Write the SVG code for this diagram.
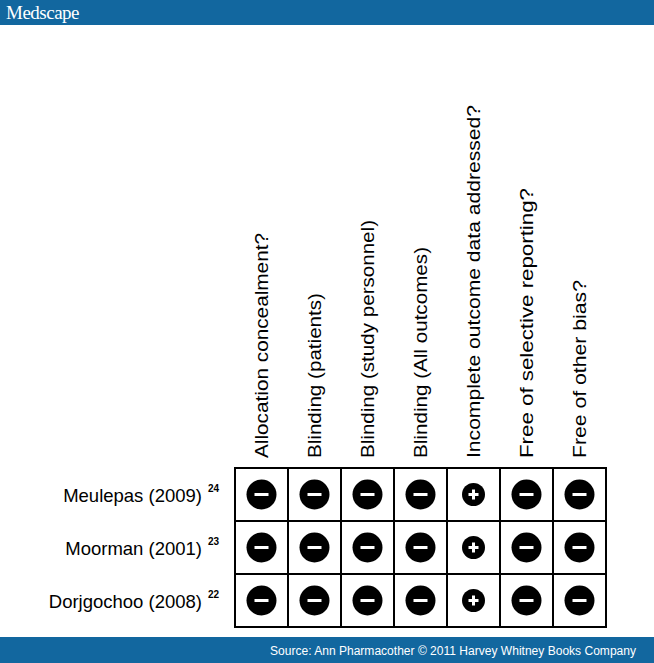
<svg xmlns="http://www.w3.org/2000/svg" width="654" height="663" viewBox="0 0 654 663">
<style>
.h{font-family:"Liberation Sans",Arial,sans-serif;font-size:18px;fill:#000}
.r{font-family:"Liberation Sans",Arial,sans-serif;font-size:18.5px;fill:#000;text-anchor:end}
.s{font-size:10px;font-weight:bold}
.g{fill:none;stroke:#000;stroke-width:2}
.m{fill:#000}
.w{stroke:#fff;stroke-width:3}
</style>
<defs>
<g id="neg"><circle r="15" class="m"/><line x1="-7" x2="7" class="w"/></g>
<g id="pos"><circle r="11.5" class="m"/><line x1="-5" x2="5" class="w"/><line y1="-5" y2="5" class="w"/></g>
</defs>
<rect width="654" height="25" fill="#12679f"/>
<text x="6" y="19" font-family="Liberation Serif,serif" font-size="19" fill="#fff" letter-spacing="-0.5">Medscape</text>
<rect y="637" width="654" height="26" fill="#12679f"/>
<text x="636" y="655" text-anchor="end" font-family="Liberation Sans,sans-serif" font-size="12" fill="#fff" textLength="366" lengthAdjust="spacingAndGlyphs">Source: Ann Pharmacother © 2011 Harvey Whitney Books Company</text>
<g id="headers">
<text class="h" transform="translate(268,458) rotate(-90)" textLength="225" lengthAdjust="spacingAndGlyphs">Allocation concealment?</text>
<text class="h" transform="translate(321,458) rotate(-90)" textLength="165" lengthAdjust="spacingAndGlyphs">Blinding (patients)</text>
<text class="h" transform="translate(374,458) rotate(-90)" textLength="238" lengthAdjust="spacingAndGlyphs">Blinding (study personnel)</text>
<text class="h" transform="translate(427,458) rotate(-90)" textLength="211" lengthAdjust="spacingAndGlyphs">Blinding (All outcomes)</text>
<text class="h" transform="translate(480,458) rotate(-90)" textLength="353" lengthAdjust="spacingAndGlyphs">Incomplete outcome data addressed?</text>
<text class="h" transform="translate(533,458) rotate(-90)" textLength="270" lengthAdjust="spacingAndGlyphs">Free of selective reporting?</text>
<text class="h" transform="translate(586,458) rotate(-90)" textLength="178" lengthAdjust="spacingAndGlyphs">Free of other bias?</text>
</g>
<g id="rows">
<text class="r" x="202" y="502">Meulepas (2009)</text><text x="208" y="492" class="h s">24</text>
<text class="r" x="202" y="555">Moorman (2001)</text><text x="208" y="545" class="h s">23</text>
<text class="r" x="202" y="608">Dorjgochoo (2008)</text><text x="208" y="598" class="h s">22</text>
</g>
<g id="grid">
<rect x="235" y="468" width="371" height="159" class="g"/>
<path d="M288 468V627M341 468V627M394 468V627M447 468V627M500 468V627M553 468V627M235 521H606M235 574H606" class="g"/>
</g>
<g id="marks">
<use href="#neg" x="261.5" y="494.5"/><use href="#neg" x="314.5" y="494.5"/><use href="#neg" x="367.5" y="494.5"/><use href="#neg" x="420.5" y="494.5"/><use href="#pos" x="473.5" y="494.5"/><use href="#neg" x="526.5" y="494.5"/><use href="#neg" x="579.5" y="494.5"/>
<use href="#neg" x="261.5" y="547.5"/><use href="#neg" x="314.5" y="547.5"/><use href="#neg" x="367.5" y="547.5"/><use href="#neg" x="420.5" y="547.5"/><use href="#pos" x="473.5" y="547.5"/><use href="#neg" x="526.5" y="547.5"/><use href="#neg" x="579.5" y="547.5"/>
<use href="#neg" x="261.5" y="600.5"/><use href="#neg" x="314.5" y="600.5"/><use href="#neg" x="367.5" y="600.5"/><use href="#neg" x="420.5" y="600.5"/><use href="#pos" x="473.5" y="600.5"/><use href="#neg" x="526.5" y="600.5"/><use href="#neg" x="579.5" y="600.5"/>
</g>
</svg>
